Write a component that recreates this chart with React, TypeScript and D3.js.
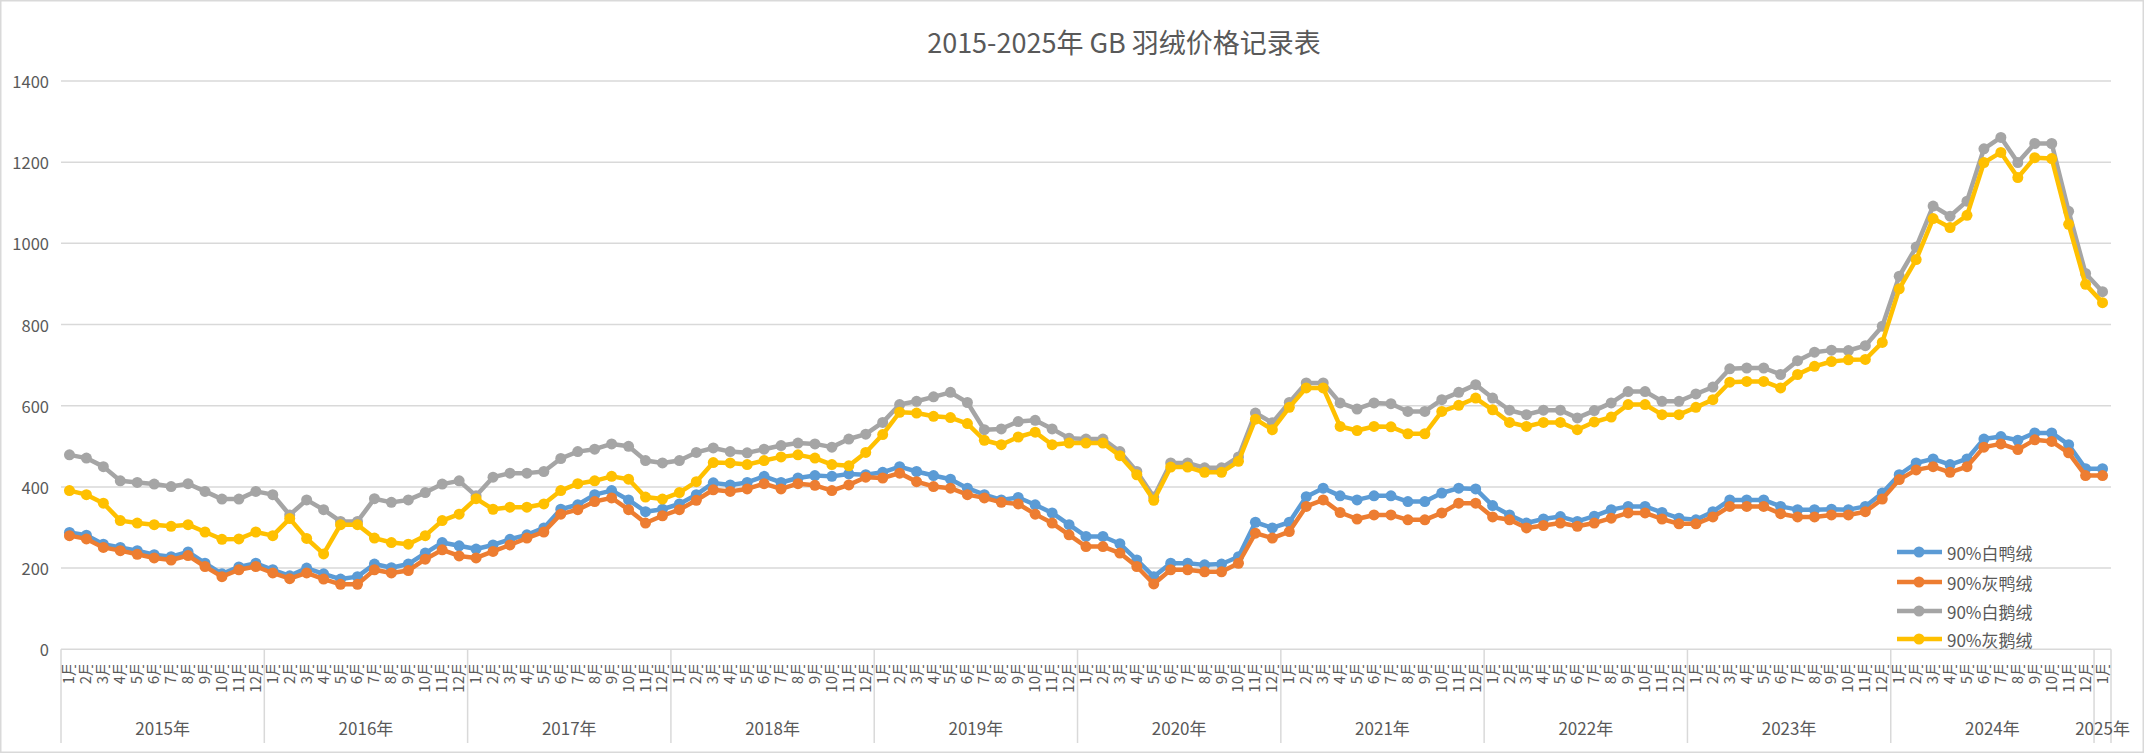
import { useEffect, useRef } from "react";
import * as d3 from "d3";

const years = ["2015年", "2016年", "2017年", "2018年", "2019年", "2020年", "2021年", "2022年", "2023年", "2024年", "2025年"];
const monthsPerYear = [12, 12, 12, 12, 12, 12, 12, 12, 12, 12, 1];
const yTicks = [0, 200, 400, 600, 800, 1000, 1200, 1400];

// 90%白鸭绒
const whiteDuck = [
  288, 281, 259, 251, 243, 233, 228, 240, 212, 186, 203, 212,
  196, 181, 200, 186, 173, 179, 210, 201, 210, 237, 263, 255,
  247, 257, 271, 282, 299, 345, 356, 381, 391, 368, 339, 345,
  358, 381, 410, 405, 411, 426, 411, 422, 428, 426, 432, 430,
  436, 450, 438, 428, 419, 397, 381, 368, 374, 356, 336, 307,
  278, 278, 260, 220, 179, 212, 212, 208, 210, 228, 313, 299,
  313, 376, 397, 378, 368, 378, 378, 364, 364, 385, 397, 395,
  354, 331, 311, 321, 327, 315, 328, 344, 352, 352, 337, 323,
  319, 339, 368, 368, 368, 352, 344, 344, 345, 344, 352, 385,
  430, 459, 469, 455, 469, 518, 524, 515, 533, 533, 504, 445,
  445,
];
// 90%灰鸭绒
const greyDuck = [
  280, 272, 251, 243, 234, 225, 220, 231, 204, 179, 196, 204,
  188, 174, 188, 173, 160, 160, 196, 188, 194, 222, 245, 230,
  225, 241, 257, 274, 289, 333, 344, 364, 373, 344, 311, 329,
  344, 367, 393, 389, 395, 408, 395, 408, 404, 391, 405, 424,
  422, 434, 413, 401, 397, 381, 373, 362, 358, 333, 311, 282,
  253, 253, 237, 204, 161, 196, 196, 191, 191, 212, 286, 274,
  290, 352, 368, 337, 321, 331, 331, 319, 319, 336, 360, 360,
  326, 319, 299, 305, 311, 303, 311, 323, 336, 336, 321, 309,
  309, 326, 352, 352, 352, 334, 326, 326, 331, 331, 339, 370,
  418, 442, 450, 436, 450, 498, 506, 492, 516, 512, 484, 428,
  428,
];
// 90%白鹅绒
const whiteGoose = [
  479, 471, 450, 415, 411, 407, 401, 408, 389, 370, 370, 389,
  381, 331, 368, 344, 315, 315, 371, 362, 368, 386, 407, 415,
  378, 424, 434, 434, 438, 470, 487, 493, 506, 500, 465, 459,
  465, 485, 496, 487, 484, 493, 502, 508, 506, 498, 518, 530,
  559, 603, 611, 622, 633, 608, 541, 543, 561, 564, 543, 520,
  518, 518, 487, 438, 375, 459, 459, 447, 447, 474, 582, 558,
  608, 656, 656, 607, 592, 607, 605, 586, 586, 615, 633, 652,
  619, 589, 578, 589, 589, 570, 588, 607, 635, 635, 611, 611,
  629, 646, 691, 693, 693, 677, 711, 732, 737, 736, 748, 796,
  919, 991, 1092, 1067, 1104, 1233, 1261, 1199, 1246, 1246, 1079, 926,
  881,
];
// 90%灰鹅绒
const greyGoose = [
  391, 381, 360, 317, 311, 307, 303, 307, 289, 271, 272, 289,
  280, 322, 273, 235, 307, 307, 274, 263, 259, 280, 317, 333,
  371, 345, 350, 350, 358, 391, 408, 415, 426, 419, 375, 370,
  386, 413, 460, 459, 455, 465, 474, 479, 471, 455, 452, 485,
  529, 584, 582, 574, 571, 556, 515, 504, 523, 535, 504, 508,
  508, 508, 477, 430, 367, 449, 449, 436, 436, 463, 567, 541,
  596, 644, 644, 549, 539, 549, 548, 531, 531, 586, 601, 619,
  590, 559, 549, 559, 559, 541, 560, 572, 603, 603, 578, 578,
  596, 615, 658, 660, 660, 644, 677, 697, 709, 713, 714, 756,
  888, 960, 1061, 1039, 1069, 1199, 1224, 1162, 1211, 1209, 1047, 899,
  854,
];

const seriesNames = ["90%白鸭绒", "90%灰鸭绒", "90%白鹅绒", "90%灰鹅绒"];
const seriesColors = ["#5B9BD5", "#ED7D31", "#A5A5A5", "#FFC000"];
const seriesData = [whiteDuck, greyDuck, whiteGoose, greyGoose];

const W = 2144, H = 753;
const FONT = "'Noto Sans CJK SC', 'Noto Sans', sans-serif";
const TXT = "#595959";
const GRID = "#d9d9d9";

export default function App() {
  const svgRef = useRef<SVGSVGElement>(null);

  useEffect(() => {
    if (!svgRef.current) return;
    const svg = d3.select(svgRef.current);
    svg.selectAll("*").remove();

    const left = 61, right = 2111, bottom = 649.3, top = 81;

    // categories: one per month
    const cats: { key: string; month: number; year: number }[] = [];
    years.forEach((y, yi) => {
      for (let m = 1; m <= monthsPerYear[yi]; m++) cats.push({ key: `${yi}-${m}`, month: m, year: yi });
    });

    const x = d3.scaleBand<string>().domain(cats.map((c) => c.key)).range([left, right]).padding(0);
    const y = d3.scaleLinear().domain([0, 1400]).range([bottom, top]);
    const cx = (i: number) => x(cats[i].key)! + x.bandwidth() / 2;

    // outer border
    svg.append("rect").attr("x", 0.75).attr("y", 0.75).attr("width", W - 1.5).attr("height", H - 1.5)
      .attr("fill", "#fff").attr("stroke", GRID).attr("stroke-width", 1.5);

    // title
    svg.append("text").attr("x", 1124).attr("y", 41).attr("text-anchor", "middle")
      .attr("dominant-baseline", "central").attr("font-family", FONT).attr("font-size", 27)
      .attr("fill", TXT).text("2015-2025年 GB 羽绒价格记录表");

    // gridlines + y labels
    const g = svg.append("g");
    yTicks.forEach((t) => {
      if (t > 0) {
        g.append("line").attr("x1", left).attr("x2", right).attr("y1", y(t)).attr("y2", y(t))
          .attr("stroke", GRID).attr("stroke-width", 1.5);
      }
      g.append("text").attr("x", 49).attr("y", y(t)).attr("text-anchor", "end")
        .attr("dominant-baseline", "central").attr("font-family", FONT).attr("font-size", 16.5)
        .attr("fill", TXT).text(String(t));
    });

    // category axis
    g.append("line").attr("x1", left).attr("x2", right).attr("y1", bottom).attr("y2", bottom)
      .attr("stroke", GRID).attr("stroke-width", 1.5);

    const clipId = "month-clip";
    svg.append("defs").append("clipPath").attr("id", clipId)
      .append("rect").attr("x", left - 10).attr("y", 665).attr("width", right - left + 20).attr("height", 40);

    const monthG = svg.append("g").attr("clip-path", `url(#${clipId})`);
    cats.forEach((c, i) => {
      monthG.append("text")
        .attr("transform", `translate(${cx(i) + 5},661) rotate(-90)`)
        .attr("text-anchor", "end").attr("font-family", FONT).attr("font-size", 15)
        .attr("fill", TXT).text(`${c.month}月`);
    });

    // year group separators and labels
    let start = 0;
    years.forEach((yr, yi) => {
      const n = monthsPerYear[yi];
      const x0 = x(cats[start].key)!;
      const x1 = x(cats[start + n - 1].key)! + x.bandwidth();
      g.append("line").attr("x1", x0).attr("x2", x0).attr("y1", bottom).attr("y2", 743)
        .attr("stroke", GRID).attr("stroke-width", 1.5);
      if (yi === years.length - 1) {
        g.append("line").attr("x1", x1).attr("x2", x1).attr("y1", bottom).attr("y2", 743)
          .attr("stroke", GRID).attr("stroke-width", 1.5);
      }
      g.append("text").attr("x", (x0 + x1) / 2).attr("y", 727).attr("text-anchor", "middle")
        .attr("dominant-baseline", "central").attr("font-family", FONT).attr("font-size", 17)
        .attr("fill", TXT).text(yr);
      start += n;
    });

    // series
    const line = d3.line<number>().x((_, i) => cx(i)).y((d) => y(d));
    seriesData.forEach((data, si) => {
      const sg = svg.append("g");
      sg.append("path").attr("d", line(data)).attr("fill", "none")
        .attr("stroke", seriesColors[si]).attr("stroke-width", 4.5).attr("stroke-linejoin", "round");
      sg.selectAll("circle").data(data).join("circle")
        .attr("cx", (_, i) => cx(i)).attr("cy", (d) => y(d)).attr("r", 5.5)
        .attr("fill", seriesColors[si]);
    });

    // legend
    const legendY = [552, 582, 611, 639];
    seriesNames.forEach((name, si) => {
      const lg = svg.append("g").attr("transform", `translate(0,${legendY[si]})`);
      lg.append("line").attr("x1", 1897).attr("x2", 1942).attr("y1", 0).attr("y2", 0)
        .attr("stroke", seriesColors[si]).attr("stroke-width", 4.5);
      lg.append("circle").attr("cx", 1919).attr("cy", 0).attr("r", 5.5).attr("fill", seriesColors[si]);
      lg.append("text").attr("x", 1947).attr("y", 0).attr("dominant-baseline", "central")
        .attr("font-family", FONT).attr("font-size", 17).attr("fill", TXT).text(name);
    });
  }, []);

  return (
    <div style={{ position: "absolute", left: 0, top: 0, width: W, height: H, background: "#fff" }}>
      <svg ref={svgRef} width={W} height={H} style={{ display: "block" }} />
    </div>
  );
}
